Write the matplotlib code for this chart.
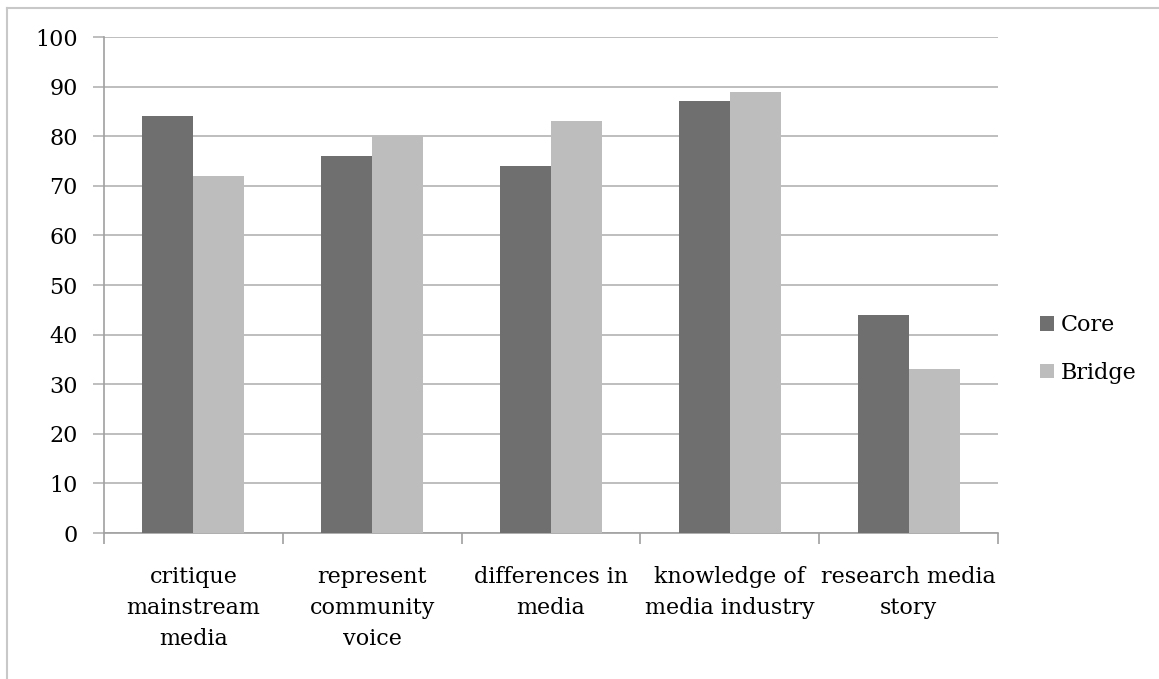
import matplotlib.pyplot as plt
import numpy as np
from matplotlib.lines import Line2D

categories = ["critique\nmainstream\nmedia", "represent\ncommunity\nvoice",
              "differences in\nmedia", "knowledge of\nmedia industry",
              "research media\nstory"]
core = [84, 76, 74, 87, 44]
bridge = [72, 80, 83, 89, 33]

plt.rcParams['font.family'] = ['DejaVu Serif']

fig = plt.figure(figsize=(11.59, 6.79), dpi=100)
ax = fig.add_axes([104 / 1159, 1 - 533 / 679, (998 - 104) / 1159, (533 - 37) / 679])

x = np.arange(len(categories))
w = 0.285
ax.bar(x - w / 2, core, w, color='#6f6f6f', label='Core', zorder=3)
ax.bar(x + w / 2, bridge, w, color='#bdbdbd', label='Bridge', zorder=3)

ax.set_xlim(-0.5, len(categories) - 0.5)
ax.set_ylim(0, 100)
ax.set_yticks(np.arange(0, 101, 10))
ax.yaxis.grid(True, color='#b3b3b3', linewidth=1.2, zorder=0)
ax.set_axisbelow(True)

# category boundary ticks, labels in the middle
ax.set_xticks(np.arange(-0.5, len(categories)), minor=False)
ax.set_xticklabels([])
ax.set_xticks(x, minor=True)
ax.set_xticklabels(categories, minor=True, fontsize=16, linespacing=1.52)
ax.tick_params(axis='x', which='minor', length=0, pad=24)
ax.tick_params(axis='x', which='major', length=8, color='#a0a0a0', width=1.2)
ax.tick_params(axis='y', length=8, color='#b3b3b3', width=1.2, labelsize=16, pad=11)

for s in ['top', 'right']:
    ax.spines[s].set_visible(False)
for s in ['left', 'bottom']:
    ax.spines[s].set_color('#a0a0a0')
    ax.spines[s].set_linewidth(1.2)

leg = ax.legend(loc='center left', bbox_to_anchor=(1.037, 0.371), frameon=False,
                fontsize=16, handlelength=0.65, handleheight=0.65,
                handletextpad=0.3, labelspacing=1.15, borderaxespad=0)

# outer frame (left and top edges)
fig.add_artist(Line2D([7 / 1159, 7 / 1159], [0, 1 - 8 / 679], color='#c8c8c8', linewidth=1.5))
fig.add_artist(Line2D([7 / 1159, 1], [1 - 8 / 679, 1 - 8 / 679], color='#c8c8c8', linewidth=1.5))

fig.savefig('out.png', dpi=100)
